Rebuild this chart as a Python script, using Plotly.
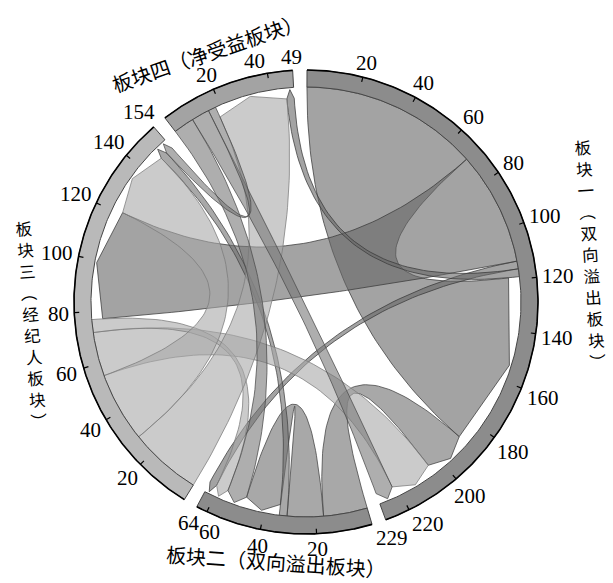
import numpy as np
import plotly.graph_objects as go

# Block names (clockwise from the top)
block_short = ["板块一", "板块二", "板块三", "板块四"]
block_kind = ["双向溢出板块", "双向溢出板块", "经纪人板块", "净受益板块"]

# Spillover link counts: row = sending block, column = receiving block
flow_b1 = [69, 3, 44, 3]
flow_b2 = [17, 14, 3, 0]
flow_b3 = [17, 5, 27, 28]
flow_b4 = [7, 8, 3, 0]

# Grey levels of the block arcs and of the ribbons leaving each block
ring_grey = [140, 140, 185, 163]
ribbon_grey = [102, 110, 168, 120]

flows = np.array([flow_b1, flow_b2, flow_b3, flow_b4], dtype=float)
n = len(block_short)
out_tot = flows.sum(axis=1)
in_tot = flows.sum(axis=0)
totals = out_tot + in_tot

W, H = 613, 583
CX, CY = 306.0, 302.0
R_OUT, R_IN = 232.0, 215.0
R_END, R_TIP = 204.0, 213.0
GAP = 3.55
START = 0.25
unit = (360.0 - n * GAP) / totals.sum()

node_start = []
a = START
for i in range(n):
    node_start.append(a)
    a += totals[i] * unit + GAP


def bearing(i, u):
    return node_start[i] + u * unit


def pt(b, r):
    t = np.radians(b)
    return CX + r * np.sin(t), CY - r * np.cos(t)


def arc(b0, b1, r, k=None):
    if k is None:
        k = max(3, int(abs(b1 - b0) * 2) + 2)
    bs = np.linspace(b0, b1, k)
    return [pt(b, r) for b in bs]


def bezier(p0, p2, k=60):
    t = np.linspace(0, 1, k)[:, None]
    p0 = np.array(p0)
    p2 = np.array(p2)
    c = np.array([CX, CY])
    pts = (1 - t) ** 2 * p0 + 2 * t * (1 - t) * c + t ** 2 * p2
    return [tuple(p) for p in pts]


# Each block arc holds its outgoing ribbons first, then its incoming ones,
# each group sorted from the largest link to the smallest
src_pos, tgt_pos = {}, {}
for i in range(n):
    u = 0.0
    for j in sorted(range(n), key=lambda j: -flows[i, j]):
        src_pos[(i, j)] = (u, u + flows[i, j])
        u += flows[i, j]
    for j in sorted(range(n), key=lambda j: -flows[j, i]):
        tgt_pos[(j, i)] = (u, u + flows[j, i])
        u += flows[j, i]

fig = go.Figure()


def add_poly(pts, fill, line, width=1.0):
    xs = [p[0] for p in pts] + [pts[0][0]]
    ys = [p[1] for p in pts] + [pts[0][1]]
    fig.add_trace(go.Scatter(x=xs, y=ys, mode="lines", fill="toself",
                             fillcolor=fill, line=dict(color=line, width=width),
                             hoverinfo="skip", showlegend=False))


# Ribbons: flush at the sender, arrow-shaped end at the receiver
for i in range(n):
    for j in range(n):
        v = flows[i, j]
        if v <= 0:
            continue
        s0, s1 = src_pos[(i, j)]
        t0, t1 = tgt_pos[(i, j)]
        a0, a1 = bearing(i, s0), bearing(i, s1)
        b0, b1 = bearing(j, t0), bearing(j, t1)
        pts = arc(a0, a1, R_IN)
        pts += bezier(pt(a1, R_IN), pt(b0, R_END))[1:]
        pts += [pt((b0 + b1) / 2, R_TIP), pt(b1, R_END)]
        pts += bezier(pt(b1, R_END), pt(a0, R_IN))[1:-1]
        g = ribbon_grey[i]
        add_poly(pts, f"rgba({g},{g},{g},0.6)", f"rgba({g-45},{g-45},{g-45},0.75)", 1.0)

# Block arcs with ticks
annotations = []
for i in range(n):
    b0 = bearing(i, 0)
    b1 = bearing(i, totals[i])
    g = ring_grey[i]
    pts = arc(b0, b1, R_OUT, 200) + arc(b1, b0, R_IN, 200)
    add_poly(pts, f"rgb({g},{g},{g})", "rgb(70,70,70)", 1.0)
    outer = arc(b0, b1, R_OUT, 200)
    fig.add_trace(go.Scatter(x=[p[0] for p in outer], y=[p[1] for p in outer], mode="lines",
                             line=dict(color="black", width=1.6), hoverinfo="skip", showlegend=False))
    ticks = list(range(20, int(totals[i]), 20))
    tx, ty = [], []
    for tv in ticks:
        b = bearing(i, tv)
        p0, p1 = pt(b, R_OUT), pt(b, R_OUT - 5)
        tx += [p0[0], p1[0], None]
        ty += [p0[1], p1[1], None]
    fig.add_trace(go.Scatter(x=tx, y=ty, mode="lines", line=dict(color="black", width=1.2),
                             hoverinfo="skip", showlegend=False))
    end_val = int(round(totals[i]))
    for tv in ticks + [end_val]:
        b = bearing(i, tv)
        # pull the last tick label back when it crowds the end label
        if tv == ticks[-1] and end_val - tv < 12:
            b -= 2.5
        s = str(tv)
        w = 10.5 * len(s)
        h = 17.0
        th = np.radians(b)
        ext = abs(np.sin(th)) * w / 2 + abs(np.cos(th)) * h / 2
        x, y = pt(b, R_OUT + 5 + ext)
        annotations.append(dict(x=x, y=y + 1, text=s, showarrow=False, xanchor="center", yanchor="middle",
                                font=dict(family="Liberation Serif", size=21, color="black")))

CJK = "Noto Sans CJK SC"
vert_map = {"（": "︵", "）": "︶"}


def vertical_label(text, x, y, angle):
    # one character per line, the column tilted slightly
    stacked = "<br>".join(vert_map.get(ch, ch) for ch in text)
    annotations.append(dict(x=x, y=y, text=stacked, showarrow=False, textangle=angle,
                            xanchor="center", yanchor="middle", align="center", borderpad=0,
                            font=dict(family=CJK, size=16.5, color="black")))


full = [f"{block_short[i]}（{block_kind[i]}）" for i in range(n)]
vertical_label(full[0], 590, 254, -4)
vertical_label(full[2], 31, 324, -4.5)
annotations.append(dict(x=276, y=561, text=full[1], showarrow=False, textangle=4,
                        xanchor="center", yanchor="middle", borderpad=0,
                        font=dict(family=CJK, size=20, color="black")))
annotations.append(dict(x=207, y=52, text=full[3], showarrow=False, textangle=-19,
                        xanchor="center", yanchor="middle",
                        font=dict(family=CJK, size=20, color="black")))

fig.update_layout(
    width=W, height=H, margin=dict(l=0, r=0, t=0, b=0),
    paper_bgcolor="white", plot_bgcolor="white",
    xaxis=dict(range=[0, W], visible=False, fixedrange=True),
    yaxis=dict(range=[H, 0], visible=False, fixedrange=True),
    annotations=annotations, showlegend=False,
)
fig.write_html("out.html")
